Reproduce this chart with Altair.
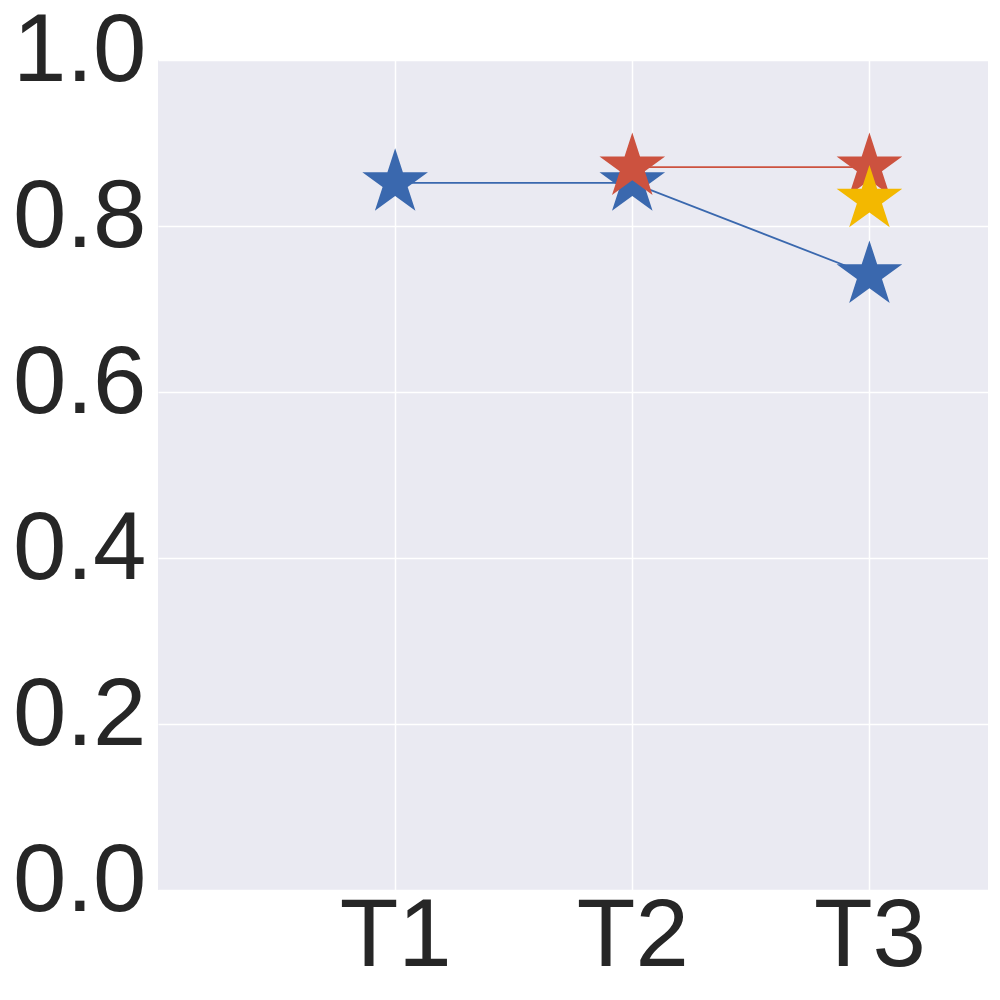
import altair as alt
import pandas as pd

categories = ["T1", "T2", "T3"]
series_names = ["blue", "red", "yellow"]
blue_values = [0.852, 0.852, 0.741]
red_values = [None, 0.871, 0.871]
yellow_values = [None, None, 0.832]
series_colors = ["#3A68AE", "#CC523F", "#F3B800"]
y_ticks = [0.0, 0.2, 0.4, 0.6, 0.8, 1.0]

STAR = ("M0,-1L0.2245,-0.309L0.9511,-0.309L0.3633,0.118L0.5878,0.809L0,0.382"
        "L-0.5878,0.809L-0.3633,0.118L-0.9511,-0.309L-0.2245,-0.309Z")

rows = []
for name, vals in zip(series_names, [blue_values, red_values, yellow_values]):
    for i, (c, v) in enumerate(zip(categories, vals)):
        if v is not None:
            rows.append({"series": name, "pos": i + 1, "cat": c, "value": v})
df = pd.DataFrame(rows)

label_list = "[''," + ",".join("'%s'" % c for c in categories) + "]"

x_enc = alt.X("pos:Q",
              scale=alt.Scale(domain=[0, 3.5], nice=False, zero=False),
              axis=alt.Axis(values=[1, 2, 3], labelExpr=label_list + "[datum.value]",
                            title=None, labelPadding=-1, labelFlush=False))
y_enc = alt.Y("value:Q",
              scale=alt.Scale(domain=[0, 1], nice=False),
              axis=alt.Axis(values=y_ticks, format=".1f", title=None,
                            labelPadding=12, labelOffset=-9, labelFlush=False))
color_enc = alt.Color("series:N",
                      scale=alt.Scale(domain=series_names, range=series_colors),
                      legend=None)

layers = []
for name in series_names:
    sub = df[df["series"] == name]
    base = alt.Chart(sub).encode(x=x_enc, y=y_enc, color=color_enc)
    if len(sub) > 1:
        layers.append(base.mark_line(strokeWidth=1.8))
    layers.append(base.mark_point(shape=STAR, size=4761, filled=True, opacity=1,
                                  strokeWidth=0))

chart = alt.layer(*layers).properties(
    width=830, height=830,
    padding={"left": 150, "top": 52, "right": 4, "bottom": 100},
    autosize=alt.AutoSizeParams(type="none"),
).configure_view(
    fill="#EAEAF2", strokeWidth=0
).configure_axis(
    labelFont="Liberation Sans", labelFontSize=96, labelColor="#262626",
    grid=True, gridColor="#FFFFFF", gridWidth=1.5, gridOpacity=1,
    domain=False, ticks=False, tickSize=0
)

chart.save("out.html", embed_options={"renderer": "svg", "actions": False})
